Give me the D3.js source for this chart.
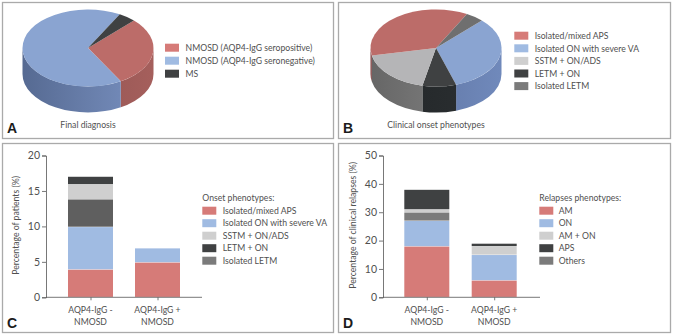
<!DOCTYPE html>
<html><head><meta charset="utf-8">
<script src="https://cdn.jsdelivr.net/npm/d3@7"></script>
<style>html,body{margin:0;padding:0;background:#fff}svg{display:block}text{font-family:Lato,sans-serif;fill:#505050}</style>
</head><body><svg id="c" width="673" height="335"></svg>
<script>
const pieALabels=["NMOSD (AQP4-IgG seropositive)","NMOSD (AQP4-IgG seronegative)","MS"];
const pieAValues=[29.3,66.4,4.3];
const pieBLabels=["Isolated/mixed APS","Isolated ON with severe VA","SSTM + ON/ADS","LETM + ON","Isolated LETM"];
const pieBValues=[36,32.7,18.5,8.3,4.5];
const groups=["AQP4-IgG -|NMOSD","AQP4-IgG +|NMOSD"];
const onsetStack=["Isolated/mixed APS","Isolated ON with severe VA","Isolated LETM","SSTM + ON/ADS","LETM + ON"];
const onsetLegend=["Isolated/mixed APS","Isolated ON with severe VA","SSTM + ON/ADS","LETM + ON","Isolated LETM"];
const onsetNeg=[3.9,6,3.9,2.1,1.1];
const onsetPos=[4.9,2,0,0,0];
const relapseStack=["AM","ON","Others","AM + ON","APS"];
const relapseLegend=["AM","ON","AM + ON","APS","Others"];
const relapseNeg=[17.9,9,3,1,7];
const relapsePos=[5.9,9,0,3,1];
const C={red:"#d67b78",blue:"#a0bbe2",light:"#cfcfcf",dark:"#3f4142",gray:"#7b7b7b"};
const svg=d3.select("#c");
const defs=svg.append("defs");
[[2,2,331,136],[338,2,332,136],[2,143,331,189],[338,143,332,189]].forEach(r=>svg.append("rect").attr("x",r[0]+.5).attr("y",r[1]+.5).attr("width",r[2]).attr("height",r[3]).attr("fill","none").attr("stroke","#aaaaaa").attr("stroke-width",1.3));
const FS=9.3;
function panelLetter(t,x,y){svg.append("text").attr("class","letter").attr("x",x).attr("y",y).text(t).attr("font-size",14).attr("font-weight",700).style("fill","#1c1c1c").style("font-family","Liberation Sans");}
function legend(title,labels,colors,x,y,dy,tx){
  const g=svg.append("g");
  if(title)g.append("text").attr("x",x).attr("y",y-dy+3).text(title).attr("font-size",FS);
  labels.forEach((l,i)=>{
    g.append("rect").attr("x",x).attr("y",y+i*dy-4).attr("width",14).attr("height",8).attr("fill",colors[i]);
    g.append("text").attr("x",x+tx).attr("y",y+i*dy+3.2).text(l).attr("font-size",FS);
  });
}
function pie3d(values,topCols,sideL,sideR,cx,cy,rx,ry,depth,startDeg,id){
  const st=startDeg*Math.PI/180;
  const arcs=d3.pie().sort(null).startAngle(st).endAngle(st+2*Math.PI)(values);
  const g=svg.append("g");
  const pt=a=>[cx+rx*Math.sin(a),cy-ry*Math.cos(a)];
  const PI=Math.PI;
  arcs.forEach((d,i)=>{
    for(const k of [0,2]){
      const a0=Math.max(d.startAngle,PI/2+k*PI),a1=Math.min(d.endAngle,3*PI/2+k*PI);
      if(a1<=a0)continue;
      const p0=pt(a0),p1=pt(a1);
      const gid=id+"g"+i+"_"+k;
      const lg=defs.append("linearGradient").attr("id",gid).attr("gradientUnits","userSpaceOnUse")
        .attr("x1",cx-rx).attr("x2",cx+rx).attr("y1",0).attr("y2",0);
      lg.append("stop").attr("offset",0).attr("stop-color",sideL[i]);
      lg.append("stop").attr("offset",1).attr("stop-color",sideR[i]);
      g.append("path").attr("fill",`url(#${gid})`)
       .attr("d",`M${p0}A${rx},${ry} 0 0 1 ${p1}L${p1[0]},${p1[1]+depth}A${rx},${ry} 0 0 0 ${p0[0]},${p0[1]+depth}Z`);
    }
  });
  const top=g.append("g").attr("transform",`translate(${cx},${cy}) scale(1,${ry/rx})`);
  const arc=d3.arc().innerRadius(0).outerRadius(rx);
  top.selectAll("path").data(arcs).join("path").attr("d",arc).attr("fill",(d,i)=>topCols[i]);
}
pie3d(pieAValues,["#bc6c69","#8aa4d1","#3f4142"],["#8a4f4d","#566a92","#2a2a2a"],["#a55f5c","#7a92c2","#2a2a2a"],88,48,65.5,38.5,26,44.5,"a");
legend(null,pieALabels,[C.red,C.blue,C.dark],165,47.7,13,20.6);
svg.append("text").attr("x",88).attr("y",127.5).attr("text-anchor","middle").text("Final diagnosis").attr("font-size",FS);
panelLetter("A",7,133);
const bIdx=[1,3,2,0,4];
const bTop=["#bc6c69","#8aa4d1","#b5b5b7","#3f4142","#6f6f6f"];
const bL=["#7a3a3a","#5a6f9c","#666666","#222628","#555"];
const bR=["#a55f5c","#7089bb","#8a8a8a","#2c3032","#666"];
pie3d(bIdx.map(i=>pieBValues[i]),bIdx.map(i=>bTop[i]),bIdx.map(i=>bL[i]),bIdx.map(i=>bR[i]),436,48,65.5,38.5,26,44.4,"b");
legend(null,pieBLabels,[C.red,C.blue,C.light,C.dark,C.gray],514.3,35.7,12.6,20.4);
svg.append("text").attr("x",436).attr("y",127.5).attr("text-anchor","middle").text("Clinical onset phenotypes").attr("font-size",FS);
panelLetter("B",343,133);
function bars(keys,neg,pos,colorOf,ymax,tick,yLabel,x0,x1,bx,letter,lx,ylx){
  const y=d3.scaleLinear().domain([0,ymax]).range([297.3,155.5]);
  const rows=groups.map((g,j)=>{const o={g};keys.forEach((k,i)=>o[k]=(j?pos:neg)[i]);return o;});
  const st=d3.stack().keys(keys)(rows);
  const g=svg.append("g");
  st.forEach(s=>s.forEach(d=>{
    if(d[1]-d[0]<=0)return;
    g.append("rect").attr("width",45)
     .attr("x",d.data.g===groups[0]?bx[0]:bx[1])
     .attr("y",y(d[1])).attr("height",y(d[0])-y(d[1])-.4).attr("fill",colorOf[s.key]);
  }));
  const ya=g.append("g").attr("transform",`translate(${x0},0)`).call(d3.axisLeft(y).tickValues(d3.range(0,ymax+1,tick)).tickSize(4).tickPadding(2));
  const xs=d3.scalePoint().domain(groups).range([bx[0]+22.5,bx[1]+22.5]);
  const xa=g.append("g").attr("transform","translate(0,297.3)").call(d3.axisBottom(xs).tickSize(3).tickFormat(""));
  xa.select(".domain").attr("d",`M${x0},0H${x1}`);
  g.selectAll(".domain,.tick line").attr("stroke","#555").attr("stroke-width",.8);
  ya.selectAll("text").attr("class","letter").attr("font-size",10.5).style("font-family","Lato").style("fill","#505050");
  groups.forEach(gr=>{
    gr.split("|").forEach((t,i)=>g.append("text").attr("x",xs(gr)).attr("y",312.5+i*12.6).attr("text-anchor","middle").attr("font-size",FS).text(t));
  });
  g.append("text").attr("transform",`translate(${ylx},${(y(0)+y(ymax))/2-1}) rotate(-90)`).attr("text-anchor","middle").attr("font-size",FS).text(yLabel);
  panelLetter(letter,lx,328);
}
const onsetColor={},relColor={};
onsetStack.forEach((k,i)=>onsetColor[k]=[C.red,C.blue,"#5f5f5f",C.light,C.dark][i]);
relapseStack.forEach((k,i)=>relColor[k]=[C.red,C.blue,C.gray,C.light,C.dark][i]);
bars(onsetStack,onsetNeg,onsetPos,onsetColor,20,5,"Percentage of patients (%)",46,202,[68,135],"C",7,18.5);
legend("Onset phenotypes:",onsetLegend,[C.red,C.blue,C.light,C.dark,C.gray],202.3,210.7,12.5,20.4);
bars(relapseStack,relapseNeg,relapsePos,relColor,50,10,"Percentage of clinical relapses (%)",383,540,[404.3,471.7],"D",343,355.5);
legend("Relapses phenotypes:",relapseLegend,[C.red,C.blue,C.light,C.dark,C.gray],539.3,210.7,12.5,19.4);
// Narrow the letterforms slightly, as in the reference type.
svg.selectAll("text:not(.letter)").each(function(){
  this.setAttribute("textLength",(this.getComputedTextLength()*0.93).toFixed(1));
  this.setAttribute("lengthAdjust","spacingAndGlyphs");
});
</script></body></html>
